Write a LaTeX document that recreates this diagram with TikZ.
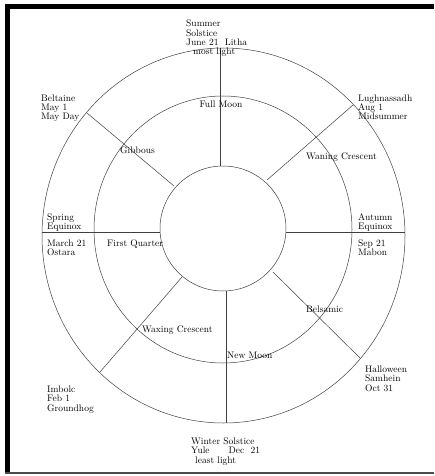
\documentclass[tikz,border=0pt]{standalone}
\usepackage{tikz}
\usetikzlibrary{positioning}

\tikzset{
  wheel/.style={line width=0.5pt,black!75},
  lbl/.style={inner sep=0pt,align=left,anchor=base west,font=\fontsize{9.5}{9.4}\selectfont},
  phase/.style={inner sep=0pt,anchor=base west,font=\fontsize{9.5}{9.4}\selectfont}
}

\begin{document}
\begin{tikzpicture}[x=1pt,y=-1pt]
        \useasboundingbox (0,0) rectangle (434,476);
        % frame
        \fill[black] (5,4) rectangle (10,474);
        \fill[black] (5,4) rectangle (434,9);
        \draw[black!70,line width=1.5pt] (5,473)--(434,473);

        % rings
        \draw[wheel] (223.5,235.5) ellipse (181.5 and 187.5);
        \draw[wheel] (223,229.5) ellipse (129 and 133.5);
        \draw[wheel] (223,228.5) ellipse (63 and 62.5);

        % spokes
        \draw[wheel] (220,48)--(220,166);
        \draw[wheel] (226,291)--(226,423);
        \draw[wheel] (42,232)--(160,232);
        \draw[wheel] (286,232)--(405,232);
        \draw[wheel] (87,113)--(174,186);
        \draw[wheel] (353,105)--(267,180);
        \draw[wheel] (182,277)--(100,372);
        \draw[wheel] (273,272)--(360,358);

        % festivals (placed at the baseline of the last line)
        \node[lbl] (litha) at (186,55) {Summer\\Solstice\\June 21~~Litha\\\hspace*{7pt}most light};
        \node[lbl] (beltaine) at (41,120) {Beltaine\\May 1\\May Day};
        \node[lbl] (lugh) at (358,120) {Lughnassadh\\Aug 1\\Midsummer};
        \node[lbl] (spring) at (47,229.5) {Spring\\Equinox};
        \node[lbl] (ostara) at (47,255.5) {March 21\\Ostara};
        \node[lbl] (autumn) at (358,229.5) {Autumn\\Equinox};
        \node[lbl] (mabon) at (358,255.5) {Sep 21\\Mabon};
        \node[lbl] (samhein) at (365,391) {Halloween\\Samhein\\Oct 31};
        \node[lbl] (imbolc) at (47,411) {Imbolc\\Feb 1\\Groundhog};
        \node[lbl] (yule) at (191,463) {Winter Solstice\\Yule\hspace{19pt}Dec~~21\\\hspace*{4pt}least light};

        % moon phases
        \node[phase,anchor=base] (full) at (221,107) {Full Moon};
        \node[phase] (gibbous) at (120,153) {Gibbous};
        \node[phase] (waning) at (306,159) {Waning Crescent};
        \node[phase] (first) at (107,246) {First Quarter};
        \node[phase] (belsamic) at (306,312) {Belsamic};
        \node[phase] (waxing) at (142,332) {Waxing Crescent};
        \node[phase] (new) at (227,358) {New Moon};
    \end{tikzpicture}
\end{document}
